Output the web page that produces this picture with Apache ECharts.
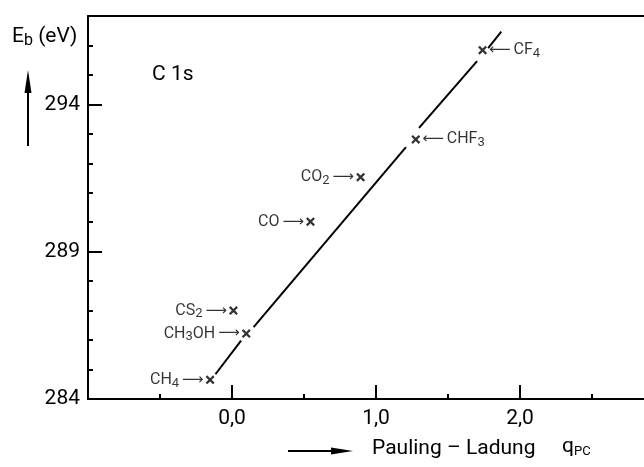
<!DOCTYPE html>
<html><head><meta charset="utf-8">
<script src="https://cdn.jsdelivr.net/npm/echarts@6/dist/echarts.min.js"></script>
<style>html,body{margin:0;padding:0;background:#fff}#c{width:644px;height:467px}</style>
</head><body><div id="c"></div>
<script>
// ---- data ----
const compounds = ['CH4', 'CH3OH', 'CS2', 'CO', 'CO2', 'CHF3', 'CF4'];
const paulingCharge = [-0.152, 0.099, 0.010, 0.545, 0.893, 1.276, 1.740];
const bindingEnergy = [284.65, 286.22, 287.00, 290.02, 291.53, 292.81, 295.84];
const fitLineSegments = [
  [[-0.115, 284.84], [0.063, 285.98]],
  [[0.150, 286.44], [1.208, 292.55]],
  [[1.299, 293.20], [1.702, 295.47]],
  [[1.779, 295.91], [1.870, 296.47]]
];
const xTickValues = [0, 1, 2];
const xTickLabels = ['0,0', '1,0', '2,0'];
const yTickValues = [284, 289, 294];
const yTickLabels = ['284', '289', '294'];

// ---- presentation ----
const INK = '#000';
const FONT = 'Roboto';
const rightLabelled = new Set(['CHF3', 'CF4']);

function formulaRich(name) {
  return name.replace(/([A-Za-z]+)|(\d+)/g, (m, letters, digits) =>
    letters ? '{m|' + letters + '}' : '{s|' + digits + '}');
}

const pointLabelRich = {
  m: { fontSize: 16, fontFamily: FONT, color: INK, lineHeight: 20 },
  s: { fontSize: 13, fontFamily: FONT, color: INK, lineHeight: 10, verticalAlign: 'bottom' },
  a: { fontSize: 15, fontFamily: 'DejaVu Sans', color: INK, lineHeight: 20 },
  g: { fontSize: 16, width: 3, lineHeight: 20 }
};

const crossPath = 'path://M1.8,0L5,3.2L8.2,0L10,1.8L6.8,5L10,8.2L8.2,10L5,6.8L1.8,10L0,8.2L3.2,5L0,1.8Z';

const scatterData = compounds.map((c, i) => ({
  name: c,
  value: [paulingCharge[i], bindingEnergy[i]],
  label: { position: rightLabelled.has(c) ? 'right' : 'left' }
}));

const lineSeries = fitLineSegments.map(seg => ({
  type: 'line',
  data: seg,
  symbol: 'none',
  silent: true,
  lineStyle: { color: INK, width: 2 },
  z: 2
}));

const chart = echarts.init(document.getElementById('c'), null, { renderer: 'canvas' });
chart.setOption({
  animation: false,
  backgroundColor: '#fff',
  grid: { left: 88, right: -20, top: 16, bottom: 68, containLabel: false, outerBoundsMode: 'none' },
  xAxis: [
    {
      type: 'value', min: -1, max: 3, interval: 1, position: 'bottom',
      axisLine: { onZero: false, lineStyle: { color: INK, width: 2 } },
      axisTick: { show: true, inside: true, length: 14, lineStyle: { color: INK, width: 2 } },
      minorTick: { show: true, splitNumber: 2, length: 5, lineStyle: { color: INK, width: 2 } },
      splitLine: { show: false },
      axisLabel: {
        color: INK, fontSize: 21, fontFamily: FONT, margin: 9,
        formatter: v => { const k = xTickValues.indexOf(Math.round(v * 1000) / 1000); return k >= 0 ? xTickLabels[k] : ''; }
      }
    },
    {
      type: 'value', min: -1, max: 3, position: 'top',
      axisLine: { show: true, onZero: false, lineStyle: { color: INK, width: 2 } },
      axisTick: { show: false }, axisLabel: { show: false }, splitLine: { show: false }
    }
  ],
  yAxis: [
    {
      type: 'value', min: 284, max: 297, interval: 1, position: 'left',
      axisLine: { show: true, onZero: false, lineStyle: { color: INK, width: 2 } },
      axisTick: { show: true, inside: true, length: 5, lineStyle: { color: INK, width: 2 } },
      axisLabel: { show: false },
      splitLine: { show: false }
    },
    {
      type: 'value', min: 284, max: 297, interval: 5, position: 'left', offset: 0,
      axisLine: { show: false, onZero: false },
      axisTick: { show: true, inside: true, length: 14, lineStyle: { color: INK, width: 2 } },
      axisLabel: {
        color: INK, fontSize: 21, fontFamily: FONT, margin: 8,
        formatter: v => { const k = yTickValues.indexOf(Math.round(v)); return k >= 0 ? yTickLabels[k] : ''; }
      },
      splitLine: { show: false }
    }
  ],
  series: [
    ...lineSeries,
    {
      type: 'scatter',
      data: scatterData,
      symbol: crossPath,
      symbolSize: 9,
      itemStyle: { color: INK },
      z: 3,
      label: {
        show: true,
        distance: 2,
        rich: pointLabelRich,
        formatter: p => rightLabelled.has(p.name)
          ? '{a|⟵}{g| }' + formulaRich(p.name)
          : formulaRich(p.name) + '{g| }{a|⟶}'
      }
    }
  ],
  graphic: [
    {
      type: 'text', left: 12, top: 26,
      style: {
        text: '{m|E}{s|b}{m| (eV)}',
        rich: {
          m: { fontSize: 21, fontFamily: FONT, fill: INK, lineHeight: 24 },
          s: { fontSize: 16, fontFamily: FONT, fill: INK, lineHeight: 8, verticalAlign: 'bottom' }
        }
      }
    },
    { type: 'line', shape: { x1: 28, y1: 146, x2: 28, y2: 86 }, style: { stroke: INK, lineWidth: 2 } },
    { type: 'polygon', shape: { points: [[28, 70], [24.5, 93], [31.5, 93]] }, style: { fill: INK } },
    {
      type: 'text', x: 152, y: 75,
      style: { text: 'C 1s', fill: INK, fontSize: 21, fontFamily: FONT, verticalAlign: 'middle' }
    },
    { type: 'line', shape: { x1: 288, y1: 451, x2: 336, y2: 451 }, style: { stroke: INK, lineWidth: 2 } },
    { type: 'polygon', shape: { points: [[353, 451], [331, 447.5], [331, 454.5]] }, style: { fill: INK } },
    {
      type: 'text', x: 372, y: 449,
      style: { text: 'Pauling – Ladung', fill: INK, fontSize: 21, fontFamily: FONT, verticalAlign: 'middle' }
    },
    {
      type: 'text', left: 562, top: 436,
      style: {
        text: '{m|q}{s|PC}',
        rich: {
          m: { fontSize: 21, fontFamily: FONT, fill: INK, lineHeight: 24 },
          s: { fontSize: 13, fontFamily: FONT, fill: INK, lineHeight: 4, verticalAlign: 'bottom' }
        }
      }
    }
  ]
});
</script>
</body></html>
